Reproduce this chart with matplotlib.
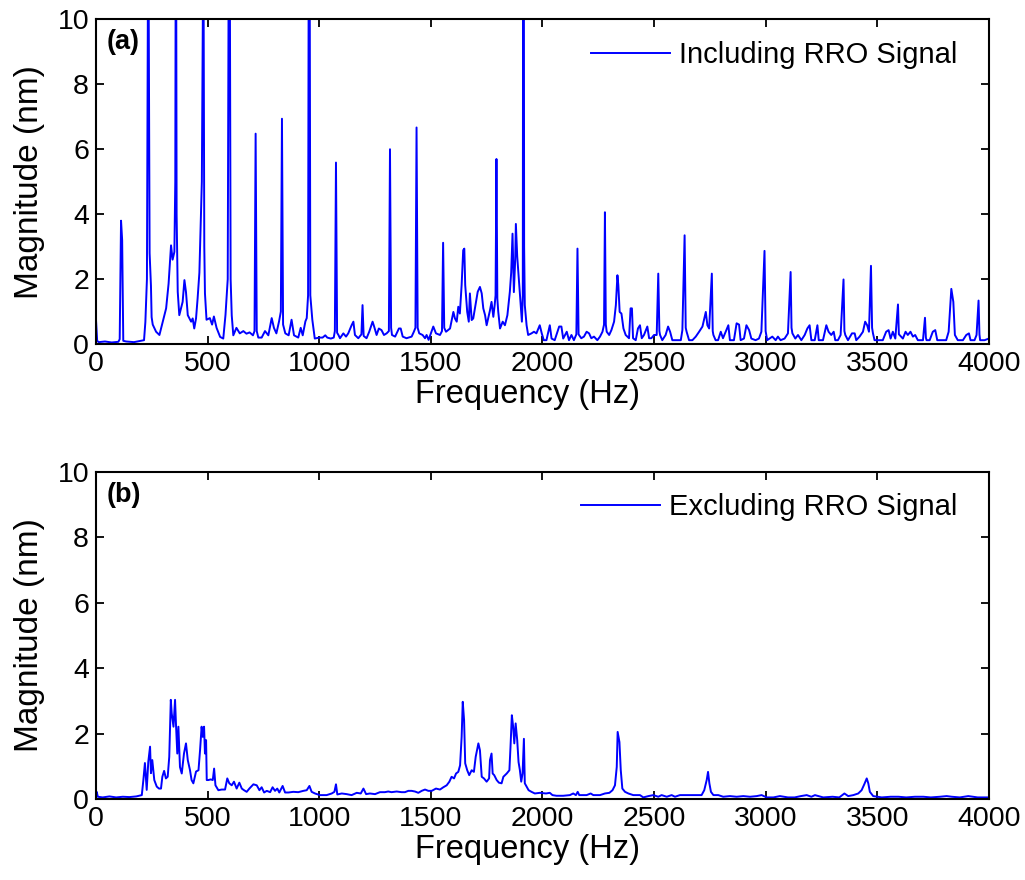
import numpy as np
import matplotlib.pyplot as plt

# spectrum including the repeatable run-out (RRO) harmonics
freq_a = [0, 5, 12, 40, 70, 100, 106, 112, 117, 122, 135, 170, 200, 215, 221, 228,
          234, 240, 246, 249, 254, 269, 284, 299, 314, 325, 336, 343, 351,
          355, 358, 361, 366, 373, 388, 396, 403, 411, 426, 433, 440, 448, 455, 463,
          474, 481, 485, 488, 495, 510, 520, 528, 540, 556, 570, 580,
          590, 597, 603, 608, 615, 629, 644, 660, 674, 688, 703,
          710, 715, 720, 727, 742, 757, 772, 787, 797, 808, 820,
          828, 833, 838, 848, 863, 876, 887, 906, 917, 926, 938, 944,
          950, 955, 960, 969, 980, 1000, 1015, 1027, 1036, 1052, 1065,
          1070, 1075, 1080, 1086, 1093, 1108, 1120, 1130, 1145, 1153, 1160, 1175,
          1189, 1194, 1199, 1212, 1224, 1239, 1246, 1257, 1267, 1279, 1290, 1302,
          1312, 1317, 1322, 1326, 1340, 1357, 1365, 1374, 1391, 1414, 1424,
          1431, 1436, 1441, 1448, 1463, 1474, 1481, 1490, 1503, 1511, 1523, 1541,
          1550, 1555, 1560, 1568, 1586, 1601, 1608, 1616, 1623, 1630, 1638, 1645,
          1650, 1654, 1663, 1670, 1675, 1683, 1690, 1701, 1710, 1720, 1728, 1735,
          1743, 1750, 1757, 1765, 1772, 1780, 1786, 1790, 1794, 1798, 1802, 1810,
          1822, 1832, 1843, 1854, 1860, 1866, 1872, 1878, 1881, 1887, 1896, 1902,
          1908, 1912, 1915, 1918, 1921, 1929, 1936, 1951, 1962, 1973, 1988, 1997,
          2006, 2018, 2033, 2041, 2055, 2075, 2085, 2093, 2109, 2119, 2130, 2141,
          2152, 2157, 2162, 2174, 2186, 2198, 2209, 2219, 2231, 2246, 2258, 2269,
          2276, 2280, 2284, 2288, 2299, 2309, 2321, 2329, 2336, 2340, 2346, 2354,
          2363, 2373, 2388, 2395, 2401, 2406, 2418, 2428, 2437, 2445, 2455, 2470,
          2478, 2488, 2500, 2512, 2519, 2524, 2527, 2537, 2552, 2563, 2572, 2582,
          2605, 2620, 2627, 2637, 2642, 2646, 2657, 2672, 2687, 2702, 2717, 2732,
          2739, 2747, 2759, 2763, 2766, 2776, 2787, 2799, 2809, 2821, 2833, 2840,
          2858, 2870, 2881, 2888, 2903, 2914, 2926, 2936, 2955, 2970, 2981, 2995,
          3000, 3007, 3030, 3045, 3055, 3067, 3085, 3100, 3112, 3116, 3120, 3133,
          3145, 3160, 3175, 3187, 3197, 3205, 3220, 3232, 3238, 3257, 3272, 3282,
          3294, 3305, 3312, 3324, 3336, 3349, 3353, 3357, 3369, 3387, 3399, 3406,
          3421, 3436, 3446, 3455, 3463, 3472, 3477, 3481, 3488, 3503, 3525, 3540,
          3551, 3560, 3570, 3581, 3593, 3597, 3600, 3615, 3627, 3637, 3649, 3660,
          3670, 3682, 3705, 3714, 3718, 3721, 3735, 3749, 3760, 3769, 3787, 3809,
          3820, 3832, 3841, 3848, 3861, 3884, 3899, 3911, 3918, 3936, 3945, 3954,
          3958, 3961, 3981, 4000]
mag_a = [0.72, 0.1, 0.06, 0.08, 0.05, 0.07, 0.15, 3.8, 3.2, 0.1, 0.08, 0.06, 0.1, 0.12, 0.68, 2.0,
         14.0, 2.8, 1.8, 0.83, 0.6, 0.38, 0.28, 0.69, 1.1, 1.86, 3.04, 2.6, 2.84,
         5.0, 16.0, 4.0, 1.61, 0.89, 1.3, 1.97, 1.6, 0.89, 0.69, 0.79, 0.48, 0.79, 1.4, 2.2,
         5.0, 13.0, 3.0, 1.56, 0.75, 0.8, 0.6, 0.85, 0.5, 0.22, 0.17, 0.9,
         2.0, 18.0, 2.0, 0.88, 0.27, 0.5, 0.33, 0.4, 0.32, 0.36, 0.27,
         0.4, 6.48, 0.4, 0.2, 0.2, 0.4, 0.27, 0.8, 0.5, 0.33, 0.7,
         1.0, 6.94, 0.6, 0.33, 0.27, 0.75, 0.27, 0.2, 0.5, 0.27, 0.7, 0.8,
         1.5, 20.0, 1.5, 0.75, 0.17, 0.2, 0.2, 0.27, 0.2, 0.17, 0.2,
         0.4, 5.59, 0.35, 0.28, 0.18, 0.33, 0.23, 0.33, 0.58, 0.69, 0.28, 0.18,
         0.3, 1.2, 0.25, 0.18, 0.38, 0.69, 0.54, 0.28, 0.48, 0.43, 0.28, 0.33,
         0.4, 6.0, 0.5, 0.28, 0.23, 0.48, 0.48, 0.23, 0.18, 0.23, 0.38,
         0.5, 6.67, 0.5, 0.33, 0.28, 0.18, 0.28, 0.13, 0.38, 0.54, 0.33, 0.28,
         0.4, 3.12, 0.5, 0.38, 0.48, 0.99, 0.79, 0.69, 1.15, 0.94, 1.82, 2.89,
         2.94, 1.82, 0.99, 0.69, 1.56, 0.74, 0.79, 1.25, 1.61, 1.76, 1.56, 1.1,
         0.89, 0.58, 0.79, 1.04, 1.3, 0.84, 1.2, 1.5, 5.7, 1.4, 1.0, 0.48,
         0.69, 0.58, 0.89, 1.61, 2.2, 3.4, 1.6, 2.6, 3.7, 2.7, 1.82, 1.2,
         0.69, 1.5, 25.0, 3.0, 1.2, 0.58, 0.28, 0.33, 0.38, 0.33, 0.58, 0.33,
         0.12, 0.12, 0.58, 0.17, 0.12, 0.54, 0.54, 0.17, 0.38, 0.12, 0.28, 0.12,
         0.3, 2.94, 0.3, 0.18, 0.23, 0.38, 0.33, 0.18, 0.23, 0.12, 0.23, 0.38,
         0.6, 4.06, 0.6, 0.38, 0.28, 0.43, 0.69, 1.2, 2.12, 1.82, 0.99, 0.94,
         0.48, 0.28, 0.18, 1.1, 1.1, 0.18, 0.12, 0.48, 0.58, 0.18, 0.28, 0.54,
         0.18, 0.18, 0.28, 0.28, 2.17, 0.4, 0.28, 0.12, 0.28, 0.54, 0.38, 0.12,
         0.12, 0.12, 0.43, 3.35, 0.5, 0.38, 0.12, 0.12, 0.23, 0.38, 0.54, 0.99,
         0.58, 0.48, 2.17, 0.4, 0.28, 0.12, 0.12, 0.38, 0.18, 0.38, 0.58, 0.12,
         0.12, 0.64, 0.6, 0.12, 0.17, 0.58, 0.43, 0.17, 0.12, 0.17, 0.38, 2.87,
         0.4, 0.12, 0.23, 0.12, 0.23, 0.12, 0.17, 0.33, 2.22, 0.5, 0.33, 0.17,
         0.28, 0.12, 0.28, 0.48, 0.58, 0.12, 0.12, 0.58, 0.12, 0.12, 0.58, 0.38,
         0.28, 0.38, 0.12, 0.12, 0.28, 1.99, 0.4, 0.28, 0.12, 0.33, 0.33, 0.12,
         0.23, 0.38, 0.69, 0.58, 0.38, 2.41, 0.5, 0.33, 0.12, 0.12, 0.12, 0.38,
         0.43, 0.17, 0.38, 0.17, 1.22, 0.3, 0.28, 0.17, 0.38, 0.28, 0.38, 0.23,
         0.28, 0.12, 0.12, 0.81, 0.2, 0.12, 0.12, 0.38, 0.43, 0.12, 0.12, 0.12,
         0.38, 1.7, 1.3, 0.28, 0.12, 0.12, 0.28, 0.33, 0.12, 0.12, 0.28, 1.34,
         0.3, 0.12, 0.12, 0.17]

# spectrum after removing the RRO harmonics
freq_b = [0, 3, 8, 30, 60, 90, 120, 150, 180, 205, 212, 219, 227, 234, 242, 246,
          252, 261, 272, 282, 291, 297, 305, 313, 321, 328, 335, 339, 347, 354,
          358, 364, 369, 376, 384, 394, 403, 411, 421, 428, 436, 448, 459, 466,
          473, 478, 484, 488, 493, 496, 503, 514, 523, 529, 535, 548, 563, 578,
          588, 597, 608, 618, 630, 642, 653, 663, 675, 687, 705, 720, 732, 742,
          753, 765, 780, 791, 802, 812, 821, 836, 847, 862, 884, 906, 929, 944,
          956, 966, 981, 1003, 1033, 1056, 1068, 1075, 1081, 1101, 1123, 1145,
          1168, 1186, 1198, 1210, 1227, 1250, 1272, 1294, 1309, 1324, 1347, 1369,
          1384, 1399, 1414, 1429, 1444, 1459, 1474, 1489, 1504, 1523, 1541, 1556,
          1571, 1583, 1593, 1604, 1613, 1623, 1631, 1638, 1643, 1649, 1654, 1663,
          1672, 1683, 1693, 1701, 1713, 1720, 1728, 1738, 1750, 1761, 1765, 1772,
          1777, 1784, 1795, 1805, 1817, 1825, 1840, 1852, 1857, 1863, 1869, 1874,
          1880, 1887, 1893, 1899, 1905, 1911, 1917, 1921, 1929, 1938, 1951, 1966,
          1989, 2016, 2033, 2045, 2063, 2093, 2123, 2138, 2150, 2158, 2165, 2198,
          2216, 2228, 2258, 2280, 2300, 2314, 2325, 2333, 2337, 2345, 2351, 2358,
          2370, 2385, 2407, 2437, 2452, 2475, 2497, 2519, 2534, 2557, 2579, 2594,
          2616, 2639, 2661, 2683, 2713, 2725, 2736, 2742, 2748, 2755, 2766, 2788,
          2810, 2840, 2870, 2900, 2930, 2960, 2982, 3005, 3035, 3064, 3100, 3130,
          3158, 3184, 3205, 3221, 3258, 3300, 3330, 3353, 3370, 3393, 3415, 3430,
          3442, 3453, 3460, 3467, 3482, 3520, 3560, 3595, 3630, 3669, 3707, 3740,
          3781, 3811, 3834, 3870, 3908, 3950, 4000]
mag_b = [0.08, 0.22, 0.07, 0.05, 0.08, 0.05, 0.07, 0.06, 0.08, 0.12, 0.58, 1.1, 0.28, 1.13, 1.6, 0.79,
         1.19, 0.58, 0.38, 0.32, 0.32, 0.68, 0.86, 0.63, 0.68, 1.29, 3.03, 2.62, 2.21, 3.03,
         2.31, 1.39, 2.21, 0.98, 0.78, 1.39, 1.7, 1.19, 0.88, 0.58, 0.48, 0.84, 0.88, 1.49,
         2.21, 1.9, 2.21, 1.39, 1.8, 0.58, 0.58, 0.6, 0.58, 0.93, 0.42, 0.27, 0.29, 0.29,
         0.63, 0.48, 0.42, 0.53, 0.32, 0.5, 0.32, 0.27, 0.22, 0.32, 0.45, 0.42, 0.27, 0.36,
         0.2, 0.25, 0.21, 0.36, 0.25, 0.32, 0.2, 0.4, 0.2, 0.2, 0.22, 0.21, 0.25, 0.27,
         0.4, 0.22, 0.17, 0.12, 0.12, 0.17, 0.22, 0.45, 0.14, 0.17, 0.15, 0.12,
         0.19, 0.17, 0.32, 0.15, 0.17, 0.15, 0.21, 0.21, 0.23, 0.21, 0.23, 0.21,
         0.21, 0.25, 0.25, 0.23, 0.19, 0.25, 0.29, 0.25, 0.25, 0.32, 0.29, 0.36,
         0.42, 0.53, 0.68, 0.63, 0.78, 0.83, 1.03, 1.9, 2.97, 2.41, 1.09, 0.88,
         0.73, 0.88, 0.83, 1.29, 1.7, 1.49, 0.68, 0.63, 0.53, 0.63, 1.19, 1.39,
         0.78, 0.73, 0.58, 0.5, 0.48, 0.68, 0.78, 0.88, 1.6, 2.56, 2.2, 1.7,
         2.31, 1.8, 1.13, 0.88, 0.53, 0.78, 1.84, 0.48, 0.38, 0.27, 0.22, 0.17,
         0.19, 0.17, 0.19, 0.12, 0.1, 0.1, 0.12, 0.17, 0.12, 0.22, 0.12, 0.12,
         0.17, 0.12, 0.12, 0.17, 0.19, 0.27, 0.42, 0.98, 2.05, 1.74, 0.88, 0.32,
         0.22, 0.17, 0.12, 0.12, 0.05, 0.09, 0.12, 0.07, 0.12, 0.07, 0.12, 0.07,
         0.12, 0.12, 0.12, 0.12, 0.12, 0.27, 0.58, 0.83, 0.48, 0.22, 0.12, 0.12,
         0.07, 0.09, 0.07, 0.09, 0.07, 0.09, 0.12, 0.05, 0.05, 0.09, 0.05, 0.05,
         0.09, 0.12, 0.07, 0.12, 0.05, 0.07, 0.05, 0.17, 0.09, 0.12, 0.17, 0.27,
         0.45, 0.63, 0.48, 0.22, 0.09, 0.05, 0.07, 0.07, 0.05, 0.07, 0.07, 0.05,
         0.07, 0.09, 0.07, 0.05, 0.09, 0.05, 0.05]

panels = [("(a)", "Including RRO Signal", freq_a, mag_a),
          ("(b)", "Excluding RRO Signal", freq_b, mag_b)]

plt.rcParams['font.family'] = ['Liberation Sans', 'DejaVu Sans']

fig = plt.figure(figsize=(10.25, 8.8), dpi=100)
axes = [fig.add_axes([0.0937, 0.609, 0.871, 0.369]),
        fig.add_axes([0.0937, 0.092, 0.871, 0.372])]

for ax, (tag, label, f, m) in zip(axes, panels):
    ax.plot(f, m, color=(0, 0, 1), lw=1.4, label=label)
    ax.set_xlim(0, 4000)
    ax.set_ylim(0, 10)
    ax.set_xticks(np.arange(0, 4001, 500))
    ax.set_yticks(np.arange(0, 11, 2))
    ax.tick_params(direction='in', top=True, right=True, length=6, width=1.3,
                   labelsize=20.5, pad=5)
    for s in ax.spines.values():
        s.set_linewidth(1.5)
    ax.set_xlabel("Frequency (Hz)", fontsize=23.5)
    ax.xaxis.set_label_coords(0.483, -0.108, transform=ax.transAxes)
    ax.xaxis.label.set_va('top')
    ax.set_ylabel("Magnitude (nm)", fontsize=24, labelpad=9)
    ax.text(0.012, 0.929, tag, transform=ax.transAxes, fontsize=19.5,
            fontweight='bold', va='center', ha='left')
    ax.legend(loc='upper right', bbox_to_anchor=(0.994, 1.015), frameon=False,
              fontsize=21, handlelength=2.7, handletextpad=0.3, borderaxespad=0.5)

fig.savefig("out.png", dpi=100)
